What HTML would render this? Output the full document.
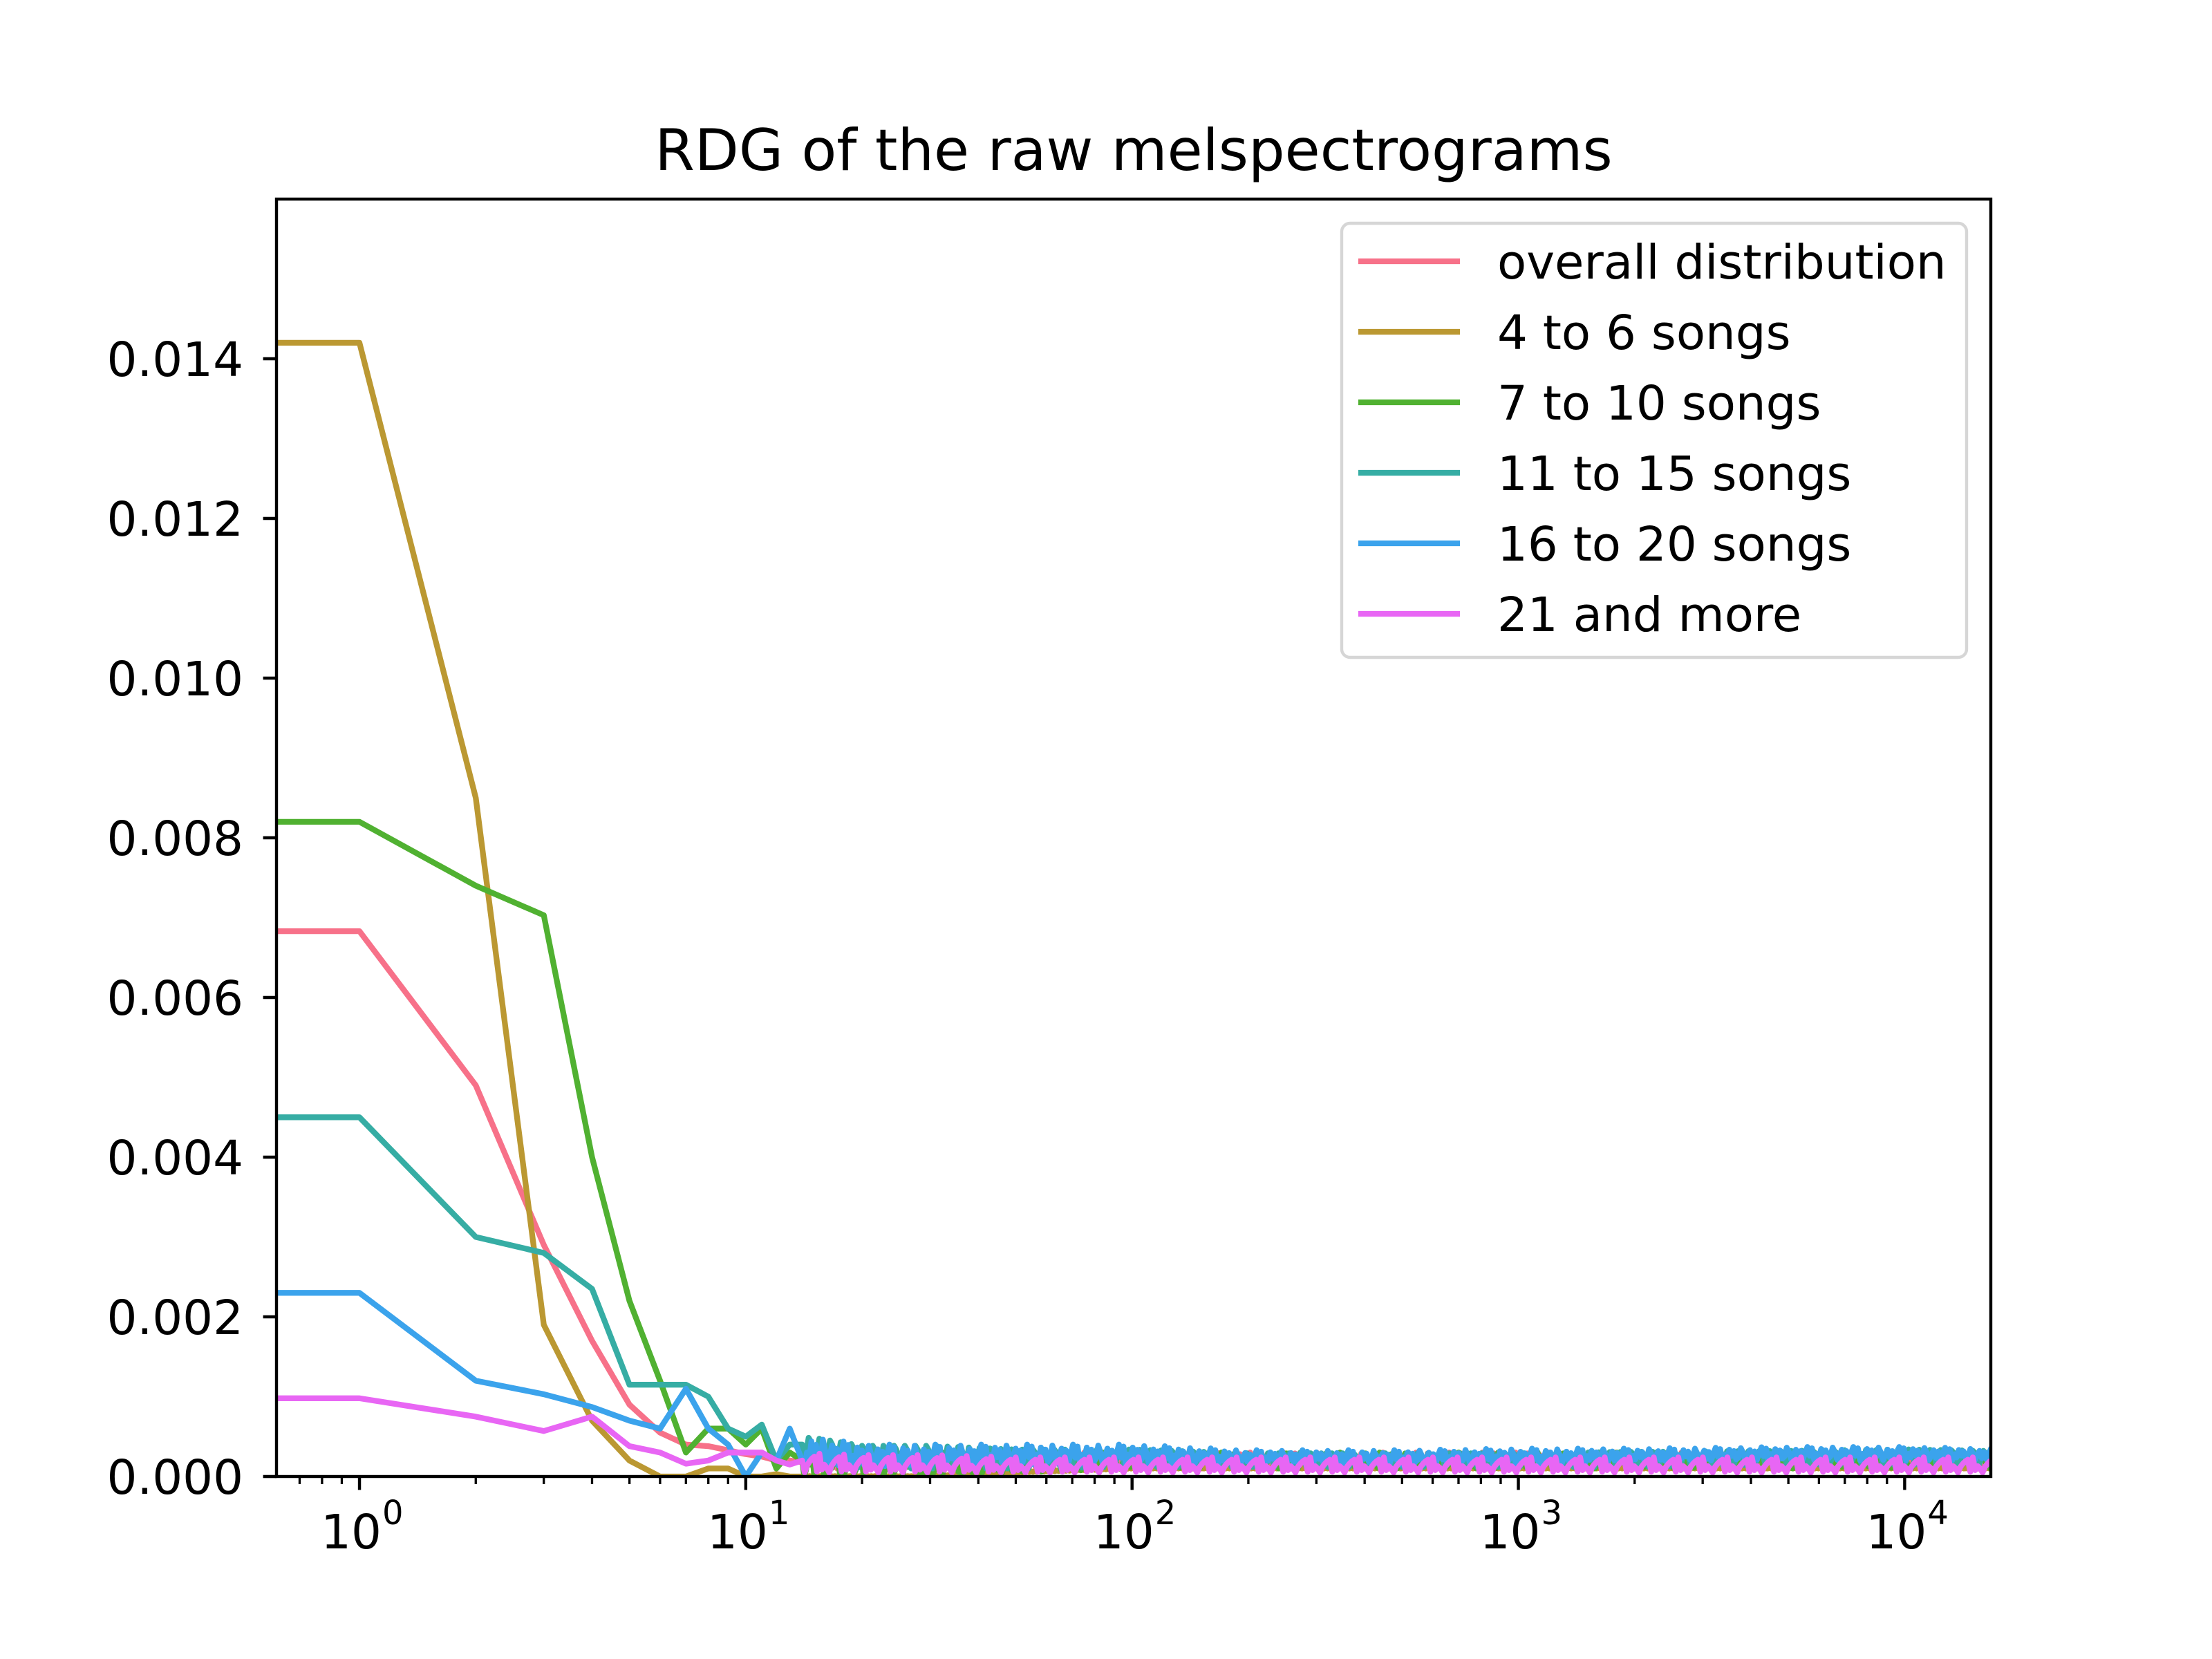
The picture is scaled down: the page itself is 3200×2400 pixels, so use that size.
<!DOCTYPE html>
<html><head><meta charset="utf-8"><style>
html,body{margin:0;padding:0;background:#fff}
svg{display:block}
text{font-family:"DejaVu Sans","Liberation Sans",sans-serif;fill:#000}
</style></head><body>
<svg id="chart" width="3200" height="2400" viewBox="0 0 3200 2400" xmlns="http://www.w3.org/2000/svg">
<rect width="3200" height="2400" fill="#fff"/>
<defs><clipPath id="clip"><rect x="400" y="288" width="2480" height="1848"/></clipPath></defs>
<text x="1640" y="246" font-size="83" text-anchor="middle">RDG of the raw melspectrograms</text>
<g id="series" clip-path="url(#clip)"></g>
<g id="axes"></g>
<g id="legend"></g>
</svg>
<script>
// ---- data ----
const seriesNames = ["overall distribution","4 to 6 songs","7 to 10 songs","11 to 15 songs","16 to 20 songs","21 and more"];
const seriesColors = ["#f77189","#bb9832","#50b131","#36ada4","#3ba3ec","#e866f4"];
// head values at x = 0..14
const headOverall = [0.00683,0.00683,0.0049,0.0029,0.0017,0.0009,0.00055,0.0004,0.00038,0.00033,0.00028,0.00025,0.0002,0.0002,0.00018];
const headGold    = [0.0142,0.0142,0.0085,0.0019,0.0007,0.0002,0.0,0.0,0.0001,0.0001,0.0,0.0,0.00003,0.0,0.0];
const headGreen   = [0.0082,0.0082,0.0074,0.00703,0.0040,0.0022,0.0012,0.0003,0.0006,0.0006,0.0004,0.0006,0.0001,0.0003,0.0002];
const headTeal    = [0.0045,0.0045,0.0030,0.0028,0.00235,0.00115,0.00115,0.00115,0.001,0.0006,0.0005,0.00065,0.0002,0.0004,0.0004];
const headBlue    = [0.0023,0.0023,0.0012,0.00103,0.00087,0.0007,0.0006,0.0011,0.0006,0.0004,0.0,0.0003,0.0002,0.0006,0.0002];
const headMagenta = [0.00098,0.00098,0.00075,0.00057,0.00075,0.00038,0.0003,0.00016,0.0002,0.0003,0.0003,0.0003,0.0002,0.00015,0.0002];
// tail envelope (noisy band) at tailX
const tailX = [15,20,30,50,100,200,500,1000,2000,5000,10000,16000];
const tailLowOverall  = [0.0001,0.0001,0.0001,0.0001,0.0001,0.0001,0.0001,0.0001,0.0001,0.0001,0.0001,0.0001];
const tailHighOverall = [0.0003,0.0003,0.0003,0.0003,0.0003,0.0003,0.0003,0.0003,0.0003,0.0003,0.0003,0.0003];
const tailLowGold     = [0.0,0.0,0.0,0.00005,0.0001,0.0001,0.0001,0.0001,0.0001,0.0001,0.0001,0.0001];
const tailHighGold    = [0.0001,0.0001,0.0001,0.0002,0.0003,0.0003,0.0003,0.0003,0.0003,0.0003,0.0004,0.0003];
const tailLowGreen    = [0.0,0.0,0.0,0.00005,0.0001,0.0001,0.0001,0.0001,0.0001,0.0001,0.0001,0.0001];
const tailHighGreen   = [0.0003,0.0003,0.0003,0.0003,0.0003,0.0003,0.0003,0.0003,0.0003,0.0003,0.0003,0.0003];
const tailLowTeal     = [0.0002,0.0001,0.0001,0.0001,0.00012,0.00012,0.00012,0.00012,0.00012,0.00015,0.00015,0.00015];
const tailHighTeal    = [0.0005,0.0004,0.0004,0.00035,0.00035,0.0003,0.0003,0.0003,0.00032,0.00033,0.00035,0.00033];
const tailLowBlue     = [0.0001,0.0001,0.0001,0.00015,0.00015,0.00015,0.00015,0.00015,0.00017,0.0002,0.0002,0.0002];
const tailHighBlue    = [0.0005,0.0004,0.0004,0.0004,0.0004,0.00033,0.00033,0.00035,0.00035,0.00037,0.00037,0.00035];
const tailLowMagenta  = [0.00005,0.00005,0.00005,0.00005,0.00005,0.00005,0.00005,0.00005,0.00005,0.00005,0.00005,0.00005];
const tailHighMagenta = [0.0003,0.00028,0.00028,0.00025,0.00025,0.00025,0.00025,0.00025,0.00025,0.00025,0.00025,0.00025];
const xTickLabels = ["0","1","2","3","4"];
const yTickValues = [0,0.002,0.004,0.006,0.008,0.010,0.012,0.014];

const heads = [headOverall,headGold,headGreen,headTeal,headBlue,headMagenta];
const tailsLow = [tailLowOverall,tailLowGold,tailLowGreen,tailLowTeal,tailLowBlue,tailLowMagenta];
const tailsHigh = [tailHighOverall,tailHighGold,tailHighGreen,tailHighTeal,tailHighBlue,tailHighMagenta];

// ---- axes functions ----
const L=400,R=2880,T=288,B=2136;
const LMIN=-0.2148,LMAX=4.223,YMAX=0.0160;
function xs(v){const l=v<=0?LMIN-0.1:Math.log10(v);return L+(l-LMIN)/(LMAX-LMIN)*(R-L);}
function ys(v){return B-v/YMAX*(B-T);}
function interp(xa,ya,x){const lx=Math.log10(x);
  for(let i=0;i<xa.length-1;i++){const a=Math.log10(xa[i]),b=Math.log10(xa[i+1]);
    if(lx<=b){const t=(lx-a)/(b-a);return ya[i]+(ya[i+1]-ya[i])*Math.max(0,t);}}
  return ya[ya.length-1];}
const NS="http://www.w3.org/2000/svg";
function mk(tag,attrs,parent){const e=document.createElementNS(NS,tag);for(const k in attrs)e.setAttribute(k,attrs[k]);parent.appendChild(e);return e;}

const shape=[0,0.9,0.35,1,0.55,0.1,0.7,0.2,0.8,0.45,0.05,0.6,0.95,0.3,0.15,0.75,0.4,0.85,0.25,0.5];
const sg=document.getElementById('series');
heads.forEach((h,si)=>{
  const pts=[];
  h.forEach((v,i)=>pts.push([xs(i),ys(v)]));
  let px=xs(h.length-1), k=0;
  const step=2.4+si*0.23;
  while(px<R+10){
    px+=step;
    const xv=Math.pow(10,LMIN+(px-L)/(R-L)*(LMAX-LMIN));
    const lo=interp(tailX,tailsLow[si],xv),hi=interp(tailX,tailsHigh[si],xv);
    const v=lo+(hi-lo)*shape[(k*(7+si*3))%shape.length];
    pts.push([px,ys(v)]);k++;
  }
  const p=mk('polyline',{points:pts.map(q=>q[0].toFixed(1)+','+q[1].toFixed(1)).join(' '),fill:'none',stroke:seriesColors[si],'stroke-width':8.3,'stroke-linejoin':'round','stroke-linecap':'square'},sg);
  
  
});

const ag=document.getElementById('axes');
const frame=mk('rect',{x:L,y:T,width:R-L,height:B-T,fill:'none',stroke:'#000','stroke-width':4.4},ag);


yTickValues.forEach(v=>{
  const y=ys(v);
  mk('line',{x1:L,x2:L-19.4,y1:y,y2:y,stroke:'#000','stroke-width':4.4},ag);
  const t=mk('text',{x:352,y:y+25,'font-size':69,'text-anchor':'end'},ag);
  t.textContent=v.toFixed(3);
  
  
});
for(let d=-1;d<=4;d++){
  for(let m=1;m<10;m++){
    const v=m*Math.pow(10,d);const x=xs(v);
    if(x<L-1||x>R+1)continue;
    mk('line',{x1:x,x2:x,y1:B,y2:B+(m===1?19.4:11),stroke:'#000','stroke-width':m===1?4.4:3.3},ag);
  }
}
xTickLabels.forEach(e=>{
  const x=xs(Math.pow(10,+e));
  const t=mk('text',{x:x-12,y:2240,'font-size':69,'text-anchor':'middle'},ag);
  t.textContent='10';
  
  
  const s=mk('text',{x:x+33,y:2205,'font-size':48,'text-anchor':'start'},ag);
  s.textContent=e;
  
  
});

const lg=document.getElementById('legend');
const box=mk('rect',{x:1941,y:323,width:904,height:628,rx:12,fill:'#fff','fill-opacity':0.8,stroke:'#d6d6d6','stroke-width':4.4},lg);


seriesNames.forEach((n,i)=>{
  const y=378+i*102;
  const ln=mk('line',{x1:1965,x2:2112,y1:y,y2:y,stroke:seriesColors[i],'stroke-width':8.3},lg);
  
  
  const t=mk('text',{x:2166,y:y+25,'font-size':69},lg);
  t.textContent=n;
  
  
});
</script>
</body></html>
